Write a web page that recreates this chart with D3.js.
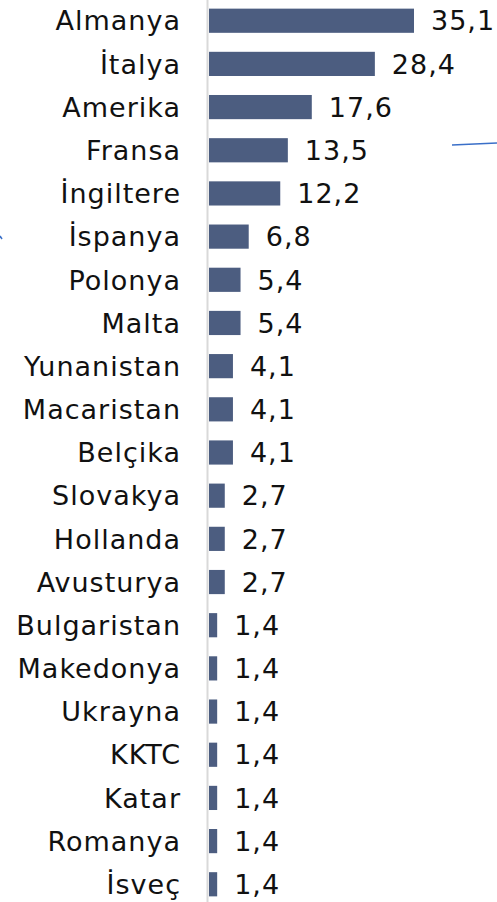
<!DOCTYPE html>
<html>
<head>
<meta charset="utf-8">
<script src="https://cdn.jsdelivr.net/npm/d3@7"></script>
<style>
  body { margin: 0; background: #fff; }
  text { font-family: "DejaVu Sans", Verdana, sans-serif; }
</style>
</head>
<body>
<div id="chart"></div>
<script>
// data
var countries = ["Almanya", "İtalya", "Amerika", "Fransa", "İngiltere", "İspanya", "Polonya", "Malta",
  "Yunanistan", "Macaristan", "Belçika", "Slovakya", "Hollanda", "Avusturya", "Bulgaristan",
  "Makedonya", "Ukrayna", "KKTC", "Katar", "Romanya", "İsveç"];
var values = [35.1, 28.4, 17.6, 13.5, 12.2, 6.8, 5.4, 5.4, 4.1, 4.1, 4.1, 2.7, 2.7, 2.7,
  1.4, 1.4, 1.4, 1.4, 1.4, 1.4, 1.4];

var width = 497, height = 902;
var x0 = 209;

var data = countries.map(function(c, i) { return {name: c, value: values[i]}; });

var svg = d3.select("#chart")
  .append("svg")
    .attr("width", width)
    .attr("height", height);

var x = d3.scaleLinear()
  .domain([0, 35.1])
  .range([x0, 414]);

var y = d3.scaleBand()
  .domain(countries)
  .range([0, 905])
  .paddingInner(0.44)
  .paddingOuter(0.2);

// vertical axis line
svg.append("line")
  .attr("x1", 207.5).attr("x2", 207.5)
  .attr("y1", 0).attr("y2", height)
  .attr("stroke", "#d9d9d9")
  .attr("stroke-width", 2);

// bars
svg.selectAll(".bar")
  .data(data)
  .enter()
  .append("rect")
    .attr("class", "bar")
    .attr("x", x(0))
    .attr("y", function(d) { return y(d.name); })
    .attr("width", function(d) { return x(d.value) - x(0); })
    .attr("height", y.bandwidth())
    .attr("fill", "#4c5d80");

// category labels
svg.selectAll(".lbl")
  .data(data)
  .enter()
  .append("text")
    .attr("class", "lbl")
    .attr("x", 181)
    .attr("y", function(d) { return y(d.name) + y.bandwidth() / 2; })
    .attr("dy", "0.36em")
    .attr("text-anchor", "end")
    .attr("font-size", 27)
    .attr("letter-spacing", 1)
    .attr("fill", "#111")
    .text(function(d) { return d.name; });

// value labels
svg.selectAll(".val")
  .data(data)
  .enter()
  .append("text")
    .attr("class", "val")
    .attr("x", function(d) { return x(d.value) + 17; })
    .attr("y", function(d) { return y(d.name) + y.bandwidth() / 2; })
    .attr("dy", "0.36em")
    .attr("font-size", 27)
    .attr("letter-spacing", 1)
    .attr("fill", "#111")
    .text(function(d) { return d3.format(".1f")(d.value).replace(".", ","); });

// stray pen strokes on the image
svg.append("path")
  .attr("d", "M452,145 Q475,144 497,143")
  .attr("fill", "none")
  .attr("stroke", "#3a6fc8")
  .attr("stroke-width", 1.5);
svg.append("path")
  .attr("d", "M0,236 L2,239")
  .attr("fill", "none")
  .attr("stroke", "#3a6fc8")
  .attr("stroke-width", 1.5);
</script>
</body>
</html>
